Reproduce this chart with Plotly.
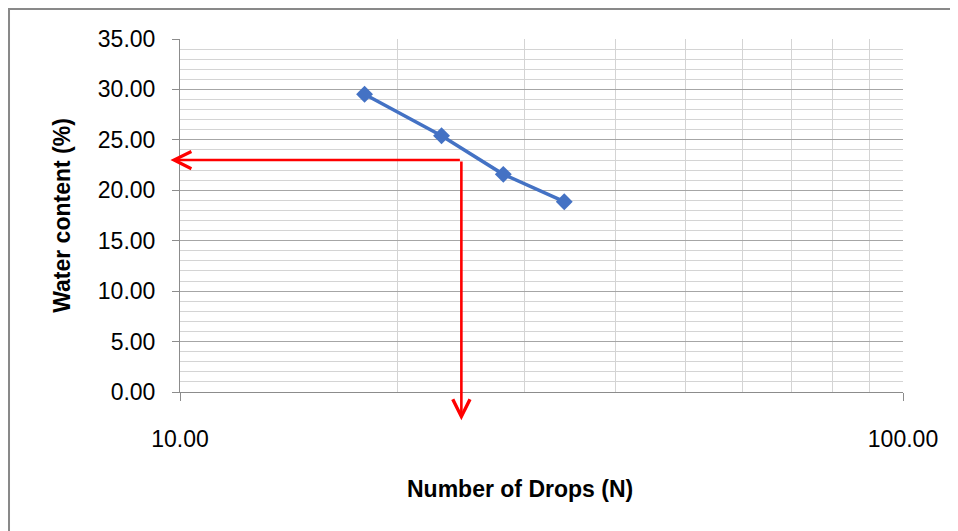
import math
import plotly.graph_objects as go

# Data
drops = [18, 23, 28, 34]
water_content = [29.52, 25.41, 21.58, 18.87]

# Liquid-limit read-off guide (red arrows)
guide_N = 24.5
guide_w = 23.0
guide_N_end = 9.7
guide_w_end = -2.8

x_tick_vals = [10, 100]
x_tick_text = ["10.00", "100.00"]

x_title = "Number of Drops (N)"
y_title = "Water content (%)"

font_family = "'Liberation Sans', Arial, sans-serif"

fig = go.Figure()
fig.add_trace(go.Scatter(
    x=drops, y=water_content, mode="lines+markers",
    line=dict(color="#4472C4", width=3.5),
    marker=dict(symbol="diamond", size=13, color="#4472C4"),
    showlegend=False, cliponaxis=False,
))

# Red arrows
fig.add_annotation(
    x=math.log10(guide_N_end), y=guide_w,
    ax=math.log10(guide_N), ay=guide_w,
    xref="x", yref="y", axref="x", ayref="y",
    text="", showarrow=True, arrowhead=5, arrowsize=1.3,
    arrowwidth=2.6, arrowcolor="#FF0000", standoff=0, startstandoff=0,
)
fig.add_annotation(
    x=math.log10(guide_N), y=guide_w_end,
    ax=math.log10(guide_N), ay=guide_w,
    xref="x", yref="y", axref="x", ayref="y",
    text="", showarrow=True, arrowhead=5, arrowsize=1.3,
    arrowwidth=2.6, arrowcolor="#FF0000", standoff=0, startstandoff=0,
)

# x-axis title (centred on the chart area, as in the original)
fig.add_annotation(
    text=f"<b>{x_title}</b>", xref="paper", yref="paper",
    x=0.470, y=-0.2748, xanchor="center", yanchor="middle",
    showarrow=False, font=dict(size=23, family=font_family, color="black"),
)

# outer chart border
fig.add_shape(type="rect", xref="paper", yref="paper",
              x0=-0.2365, y0=-0.6, x1=1.3, y1=1.085,
              line=dict(color="#898989", width=2), fillcolor="rgba(0,0,0,0)")

fig.update_layout(
    width=958, height=531,
    margin=dict(l=172, r=63, t=31, b=147),
    paper_bgcolor="white", plot_bgcolor="white",
    font=dict(family=font_family, color="black"),
)

fig.update_xaxes(
    type="log", range=[1, 2],
    tickvals=x_tick_vals, ticktext=x_tick_text,
    ticks="outside", ticklen=8, tickcolor="#8c8c8c", tickwidth=1,
    ticklabelstandoff=18,
    tickfont=dict(size=23, family=font_family),
    showline=True, linecolor="#8c8c8c", linewidth=1, mirror=False,
    showgrid=True, gridcolor="#a6a6a6", gridwidth=1,
    minor=dict(dtick="D1", showgrid=True, gridcolor="#d4d4d4", gridwidth=1, ticks=""),
    zeroline=False,
)

fig.update_yaxes(
    range=[0, 35], dtick=5, tickformat=".2f",
    ticks="outside", ticklen=7, tickcolor="#8c8c8c", tickwidth=1,
    ticklabelstandoff=12,
    tickfont=dict(size=23, family=font_family),
    showline=True, linecolor="#8c8c8c", linewidth=1,
    showgrid=True, gridcolor="#a6a6a6", gridwidth=1,
    minor=dict(dtick=1, showgrid=True, gridcolor="#d4d4d4", gridwidth=1, ticks=""),
    zeroline=False,
    title=dict(text=f"<b>{y_title}</b>", font=dict(size=23, family=font_family), standoff=20),
)

fig.write_html("out.html")
